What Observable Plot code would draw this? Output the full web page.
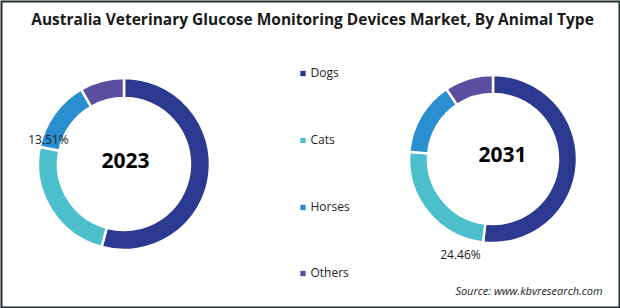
<!DOCTYPE html>
<html>
<head>
<meta charset="utf-8">
<script src="https://cdn.jsdelivr.net/npm/d3@7"></script>
<script src="https://cdn.jsdelivr.net/npm/@observablehq/plot@0.6"></script>
<style>
  html, body { margin: 0; padding: 0; background: #fff; }
  #chart svg { display: block; }
</style>
</head>
<body>
<div id="chart"></div>
<script>
// ---- data ----
const title = "Australia Veterinary Glucose Monitoring Devices Market, By Animal Type";
const animals = ["Dogs", "Cats", "Horses", "Others"];
const years = ["2023", "2031"];
const share2023 = [54.2, 24.0, 13.51, 8.29];
const share2031 = [51.9, 24.46, 14.3, 9.34];
const shownLabels = [{year: "2023", animal: "Horses", text: "13.51%"}, {year: "2031", animal: "Cats", text: "24.46%"}];
const sourceText = "Source: www.kbvresearch.com";
const palette = ["#2B3990", "#4BC0CC", "#2A8FD1", "#5B4DA0"];

// ---- layout (not data) ----
const W = 620, H = 308;
const layout = {
  "2023": {cx: 124, cy: 164, r: 86, ir: 66, tx: 125, ty: 161},
  "2031": {cx: 493, cy: 159, r: 84, ir: 65, tx: 502, ty: 155}
};
const labelPos = {"2023": {x: 48, y: 140, anchor: "end"}, "2031": {x: 460, y: 255, anchor: "middle"}};
const legendY = [73, 140, 207, 273];

const rows = [];
years.forEach((y, yi) => {
  const vals = yi === 0 ? share2023 : share2031;
  animals.forEach((a, i) => rows.push({year: y, animal: a, value: vals[i]}));
});

function donuts(index, scales, values, dimensions, context) {
  const g = d3.create("svg:g");
  for (const y of years) {
    const L = layout[y];
    const data = rows.filter(d => d.year === y);
    const arcs = d3.pie().sort(null).value(d => d.value)(data);
    const arc = d3.arc().innerRadius(L.ir).outerRadius(L.r);
    const cx = scales.x(L.cx), cy = scales.y(L.cy);
    g.append("g")
      .attr("transform", `translate(${cx},${cy})`)
      .selectAll("path")
      .data(arcs)
      .join("path")
      .attr("d", arc)
      .attr("fill", d => scales.color(d.data.animal))
      .attr("stroke", "#fff")
      .attr("stroke-width", 2.5)
      .attr("stroke-linejoin", "miter");
  }
  return g.node();
}

const legendData = animals.map((a, i) => ({animal: a, y: legendY[i]}));

const plot = Plot.plot({
  width: W, height: H,
  margin: 0,
  x: {domain: [0, W], range: [0, W], axis: null},
  y: {domain: [0, H], range: [0, H], axis: null},
  color: {domain: animals, range: palette},
  style: {fontFamily: "'Open Sans', sans-serif", background: "#fff"},
  marks: [
    donuts,
    Plot.text([title], {x: W / 2 + 2, y: 20, text: d => d, fontSize: 15.5, fontWeight: "bold", fill: "#1a1a1a"}),
    Plot.text(years, {x: d => layout[d].tx, y: d => layout[d].ty, text: d => d, fontSize: 21, fontWeight: "bold", fill: "#000"}),
    Plot.text(shownLabels, {x: d => labelPos[d.year].x, y: d => labelPos[d.year].y, text: "text", textAnchor: d => labelPos[d.year].anchor, fontSize: 12, fill: "#222"}),
    Plot.dot(legendData, {x: 302.5, y: "y", symbol: "square", r: 3, fill: "animal", stroke: null}),
    Plot.text(legendData, {x: 310, y: "y", text: "animal", textAnchor: "start", fontSize: 12, fill: "#222"}),
    Plot.text([sourceText], {x: 602, y: 291, text: d => d, textAnchor: "end", fontSize: 11, fontStyle: "italic", fill: "#222"}),
    Plot.frame({stroke: "#1f2d2d", strokeWidth: 2, inset: 1})
  ]
});
document.getElementById("chart").append(plot);
</script>
</body>
</html>
